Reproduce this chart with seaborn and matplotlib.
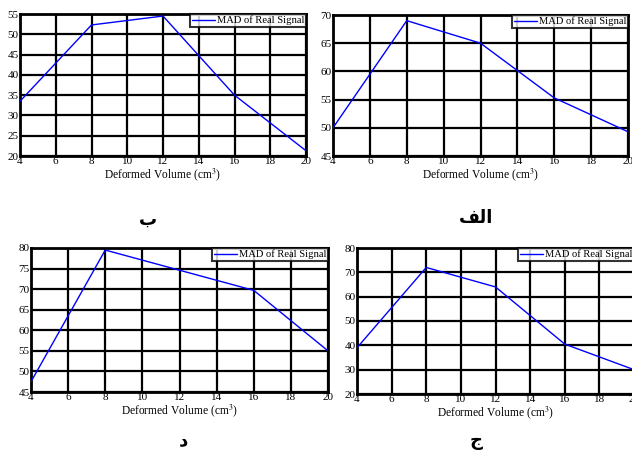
import numpy as np
import pandas as pd
import seaborn as sns
import matplotlib.pyplot as plt

# ---- data ----
volume = [4, 8, 12, 16, 20]
mad_ba = [33.5, 52.3, 54.5, 35.0, 21.3]     # panel "ب"
mad_alef = [50.0, 69.0, 65.0, 55.3, 49.3]   # panel "الف"
mad_dal = [47.5, 79.5, 74.6, 69.7, 55.0]    # panel "د"
mad_jim = [39.0, 72.0, 64.0, 40.5, 30.0]    # panel "ج"

x_ticks = [4, 6, 8, 10, 12, 14, 16, 18, 20]
yticks_ba = [20, 25, 30, 35, 40, 45, 50, 55]
yticks_alef = [45, 50, 55, 60, 65, 70]
yticks_dal = [45, 50, 55, 60, 65, 70, 75, 80]
yticks_jim = [20, 30, 40, 50, 60, 70, 80]

# Arabic panel captions (presentation forms so they render joined, visual order)
cap_ba = "\uFE8F"                 # ب
cap_alef = "\uFED2\uFEDF\uFE8D"   # الف
cap_dal = "\uFEA9"                # د
cap_jim = "\uFE9D"                # ج

series_name = "MAD of Real Signal"
xlabel = "Deformed Volume (cm$^3$)"

sns.set_style("white")
plt.rcParams['font.family'] = ['Liberation Serif', 'DejaVu Serif']
plt.rcParams['mathtext.fontset'] = 'stix'
plt.rcParams['text.color'] = 'black'

fig = plt.figure(figsize=(6.32, 4.5), dpi=100)

W, H = 632, 450
def rect(l, t, r, b):
    return [l / W, 1 - b / H, (r - l) / W, (b - t) / H]

panels = [
    (rect(20, 14, 306, 156), mad_ba, yticks_ba, cap_ba, (148, 220)),
    (rect(333, 15, 628, 156), mad_alef, yticks_alef, cap_alef, (476, 218)),
    (rect(31, 248, 328, 392), mad_dal, yticks_dal, cap_dal, (183, 440)),
    (rect(357, 248, 634, 394), mad_jim, yticks_jim, cap_jim, (476, 441)),
]

for pos, vals, yt, cap, cpos in panels:
    ax = fig.add_axes(pos)
    df = pd.DataFrame({"Volume": volume, "MAD": vals})
    sns.lineplot(data=df, x="Volume", y="MAD", ax=ax, color="#0000ff",
                 lw=1.0, label=series_name, zorder=5)
    ax.set_xlim(4, 20)
    ax.set_ylim(yt[0], yt[-1])
    ax.set_xticks(x_ticks)
    ax.set_yticks(yt)
    ax.grid(True, color="black", lw=1.6)
    ax.set_axisbelow(True)
    for s in ax.spines.values():
        s.set_color("black")
        s.set_linewidth(2.0)
    ax.tick_params(length=0, pad=1, labelsize=8, colors="black")
    ax.set_xlabel(xlabel, fontsize=8.3, labelpad=0, color="black")
    ax.set_ylabel("")
    leg = ax.legend(loc="upper right", fontsize=7.6, frameon=True, fancybox=False,
                    borderaxespad=0, borderpad=0.15, handlelength=2.2,
                    handletextpad=0.2, edgecolor="black")
    leg.get_frame().set_linewidth(1.5)
    for t in leg.get_texts():
        t.set_color("black")
    fig.text(cpos[0] / W, 1 - cpos[1] / H, cap, fontsize=13, fontweight="bold",
             family=['DejaVu Sans'], ha="center", va="center", color="black")

fig.savefig("out.png", dpi=100)
